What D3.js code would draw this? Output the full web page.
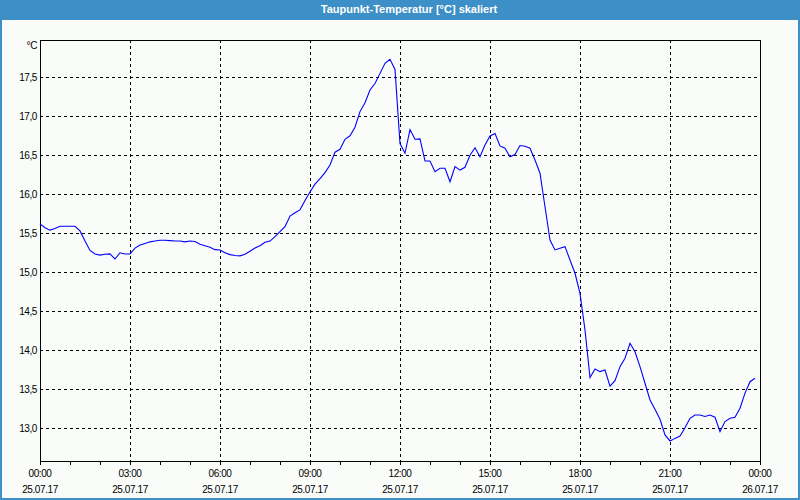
<!DOCTYPE html>
<html><head><meta charset="utf-8">
<script src="https://cdn.jsdelivr.net/npm/d3@7/dist/d3.min.js"></script>
<style>body{margin:0;background:#fff}svg{display:block}</style>
</head><body>
<script>
// ---- data ----
const chartTitle = "Taupunkt-Temperatur [°C] skaliert";
const unitLabel = "°C";
const startTime = "2017-07-25T00:00:00";
const endTime = "2017-07-26T00:00:00";
const sampleMinutes = 10;
const dewPoint = [
  15.62,15.57,15.54,15.56,15.59,15.59,15.59,15.59,15.53,15.40,
  15.28,15.235,15.22,15.23,15.235,15.17,15.25,15.235,15.235,15.31,
  15.35,15.37,15.39,15.40,15.41,15.41,15.405,15.40,15.40,15.39,
  15.40,15.395,15.36,15.34,15.32,15.29,15.285,15.25,15.226,15.215,
  15.21,15.23,15.27,15.31,15.34,15.385,15.40,15.456,15.52,15.585,
  15.72,15.764,15.80,15.92,16.03,16.13,16.20,16.277,16.376,16.54,
  16.577,16.705,16.75,16.86,17.06,17.174,17.337,17.42,17.55,17.68,
  17.73,17.60,16.65,16.526,16.83,16.705,16.71,16.427,16.427,16.29,
  16.333,16.333,16.16,16.354,16.31,16.346,16.50,16.597,16.482,16.632,
  16.747,16.78,16.62,16.59,16.48,16.51,16.625,16.615,16.59,16.44,
  16.27,15.84,15.414,15.286,15.307,15.328,15.158,14.987,14.73,14.26,
  13.65,13.76,13.726,13.747,13.54,13.61,13.79,13.897,14.09,13.98,
  13.79,13.577,13.363,13.244,13.115,12.914,12.837,12.87,12.90,13.007,
  13.128,13.17,13.17,13.15,13.17,13.141,12.957,13.085,13.128,13.141,
  13.256,13.45,13.597,13.64
];
const yTicks = [13.0, 13.5, 14.0, 14.5, 15.0, 15.5, 16.0, 16.5, 17.0, 17.5];
const yDomain = [12.58, 17.978];

// ---- layout ----
const W = 800, H = 500;
const M = {left: 40, right: 760, top: 40, bottom: 461};

const svg = d3.select("body").append("svg").attr("width", W).attr("height", H)
  .style("font-family", "'Liberation Sans', Arial, sans-serif");

svg.append("rect").attr("width", W).attr("height", H).attr("fill", "#fafcfa");
svg.append("rect").attr("width", W).attr("height", 20).attr("fill", "#3d8fc7");
svg.append("rect").attr("x", 1).attr("y", 1).attr("width", W - 2).attr("height", H - 2)
  .attr("fill", "none").attr("stroke", "#3d8fc7").attr("stroke-width", 2);

svg.append("text").attr("x", 409).attr("y", 9).attr("dy", "0.35em")
  .attr("text-anchor", "middle").attr("fill", "#fff")
  .attr("font-size", 11).attr("font-weight", "bold").text(chartTitle);

const parse = d3.timeParse("%Y-%m-%dT%H:%M:%S");
const t0 = parse(startTime), t1 = parse(endTime);
const data = dewPoint.map((v, i) => ({t: d3.timeMinute.offset(t0, i * sampleMinutes), v}));

const x = d3.scaleTime().domain([t0, t1]).range([M.left, M.right]);
const y = d3.scaleLinear().domain(yDomain).range([M.bottom, M.top]);
const px = v => Math.round(v) + 0.5;

// grid
const g = svg.append("g").attr("shape-rendering", "crispEdges");
g.selectAll("line.hg").data(yTicks).join("line")
  .attr("x1", M.left).attr("x2", M.right)
  .attr("y1", d => px(y(d))).attr("y2", d => px(y(d)))
  .attr("stroke", "#000").attr("stroke-dasharray", "3,3");
const majorTimes = d3.timeHour.every(3).range(t0, d3.timeMinute.offset(t1, 1));
g.selectAll("line.vg").data(majorTimes.slice(1, -1)).join("line")
  .attr("x1", d => px(x(d))).attr("x2", d => px(x(d)))
  .attr("y1", M.top).attr("y2", M.bottom)
  .attr("stroke", "#000").attr("stroke-dasharray", "3,3");

// frame
g.append("rect").attr("x", M.left + 0.5).attr("y", M.top + 0.5)
  .attr("width", M.right - M.left).attr("height", M.bottom - M.top)
  .attr("fill", "none").attr("stroke", "#000");

// hourly ticks
const hourTimes = d3.timeHour.every(1).range(t0, d3.timeMinute.offset(t1, 1));
g.selectAll("line.tk").data(hourTimes).join("line")
  .attr("x1", d => px(x(d))).attr("x2", d => px(x(d)))
  .attr("y1", M.bottom).attr("y2", M.bottom + 4)
  .attr("stroke", "#000");

// x labels
const fTime = d3.timeFormat("%H:%M"), fDate = d3.timeFormat("%d.%m.%y");
const xl = svg.append("g").attr("font-size", 10).attr("letter-spacing", "-0.4px")
  .attr("fill", "#000").attr("text-anchor", "middle");
xl.selectAll("text.t").data(majorTimes).join("text")
  .attr("x", d => x(d)).attr("y", 473).attr("dy", "0.35em").text(d => fTime(d));
xl.selectAll("text.d").data(majorTimes).join("text")
  .attr("x", d => x(d)).attr("y", 489).attr("dy", "0.35em").text(d => fDate(d));

// y labels
const fmtY = v => d3.format(".1f")(v).replace(".", ",");
const yl = svg.append("g").attr("font-size", 10).attr("letter-spacing", "-0.4px")
  .attr("fill", "#000").attr("text-anchor", "end");
yl.selectAll("text").data(yTicks).join("text")
  .attr("x", 37).attr("y", d => px(y(d))).attr("dy", "0.35em").text(d => fmtY(d));
yl.append("text").attr("x", 37).attr("y", 45).attr("dy", "0.35em").text(unitLabel);

// line
svg.append("path").datum(data)
  .attr("d", d3.line().x(d => x(d.t)).y(d => y(d.v)))
  .attr("fill", "none").attr("stroke", "#0000ff").attr("stroke-width", 1.1);
</script>
</body></html>
